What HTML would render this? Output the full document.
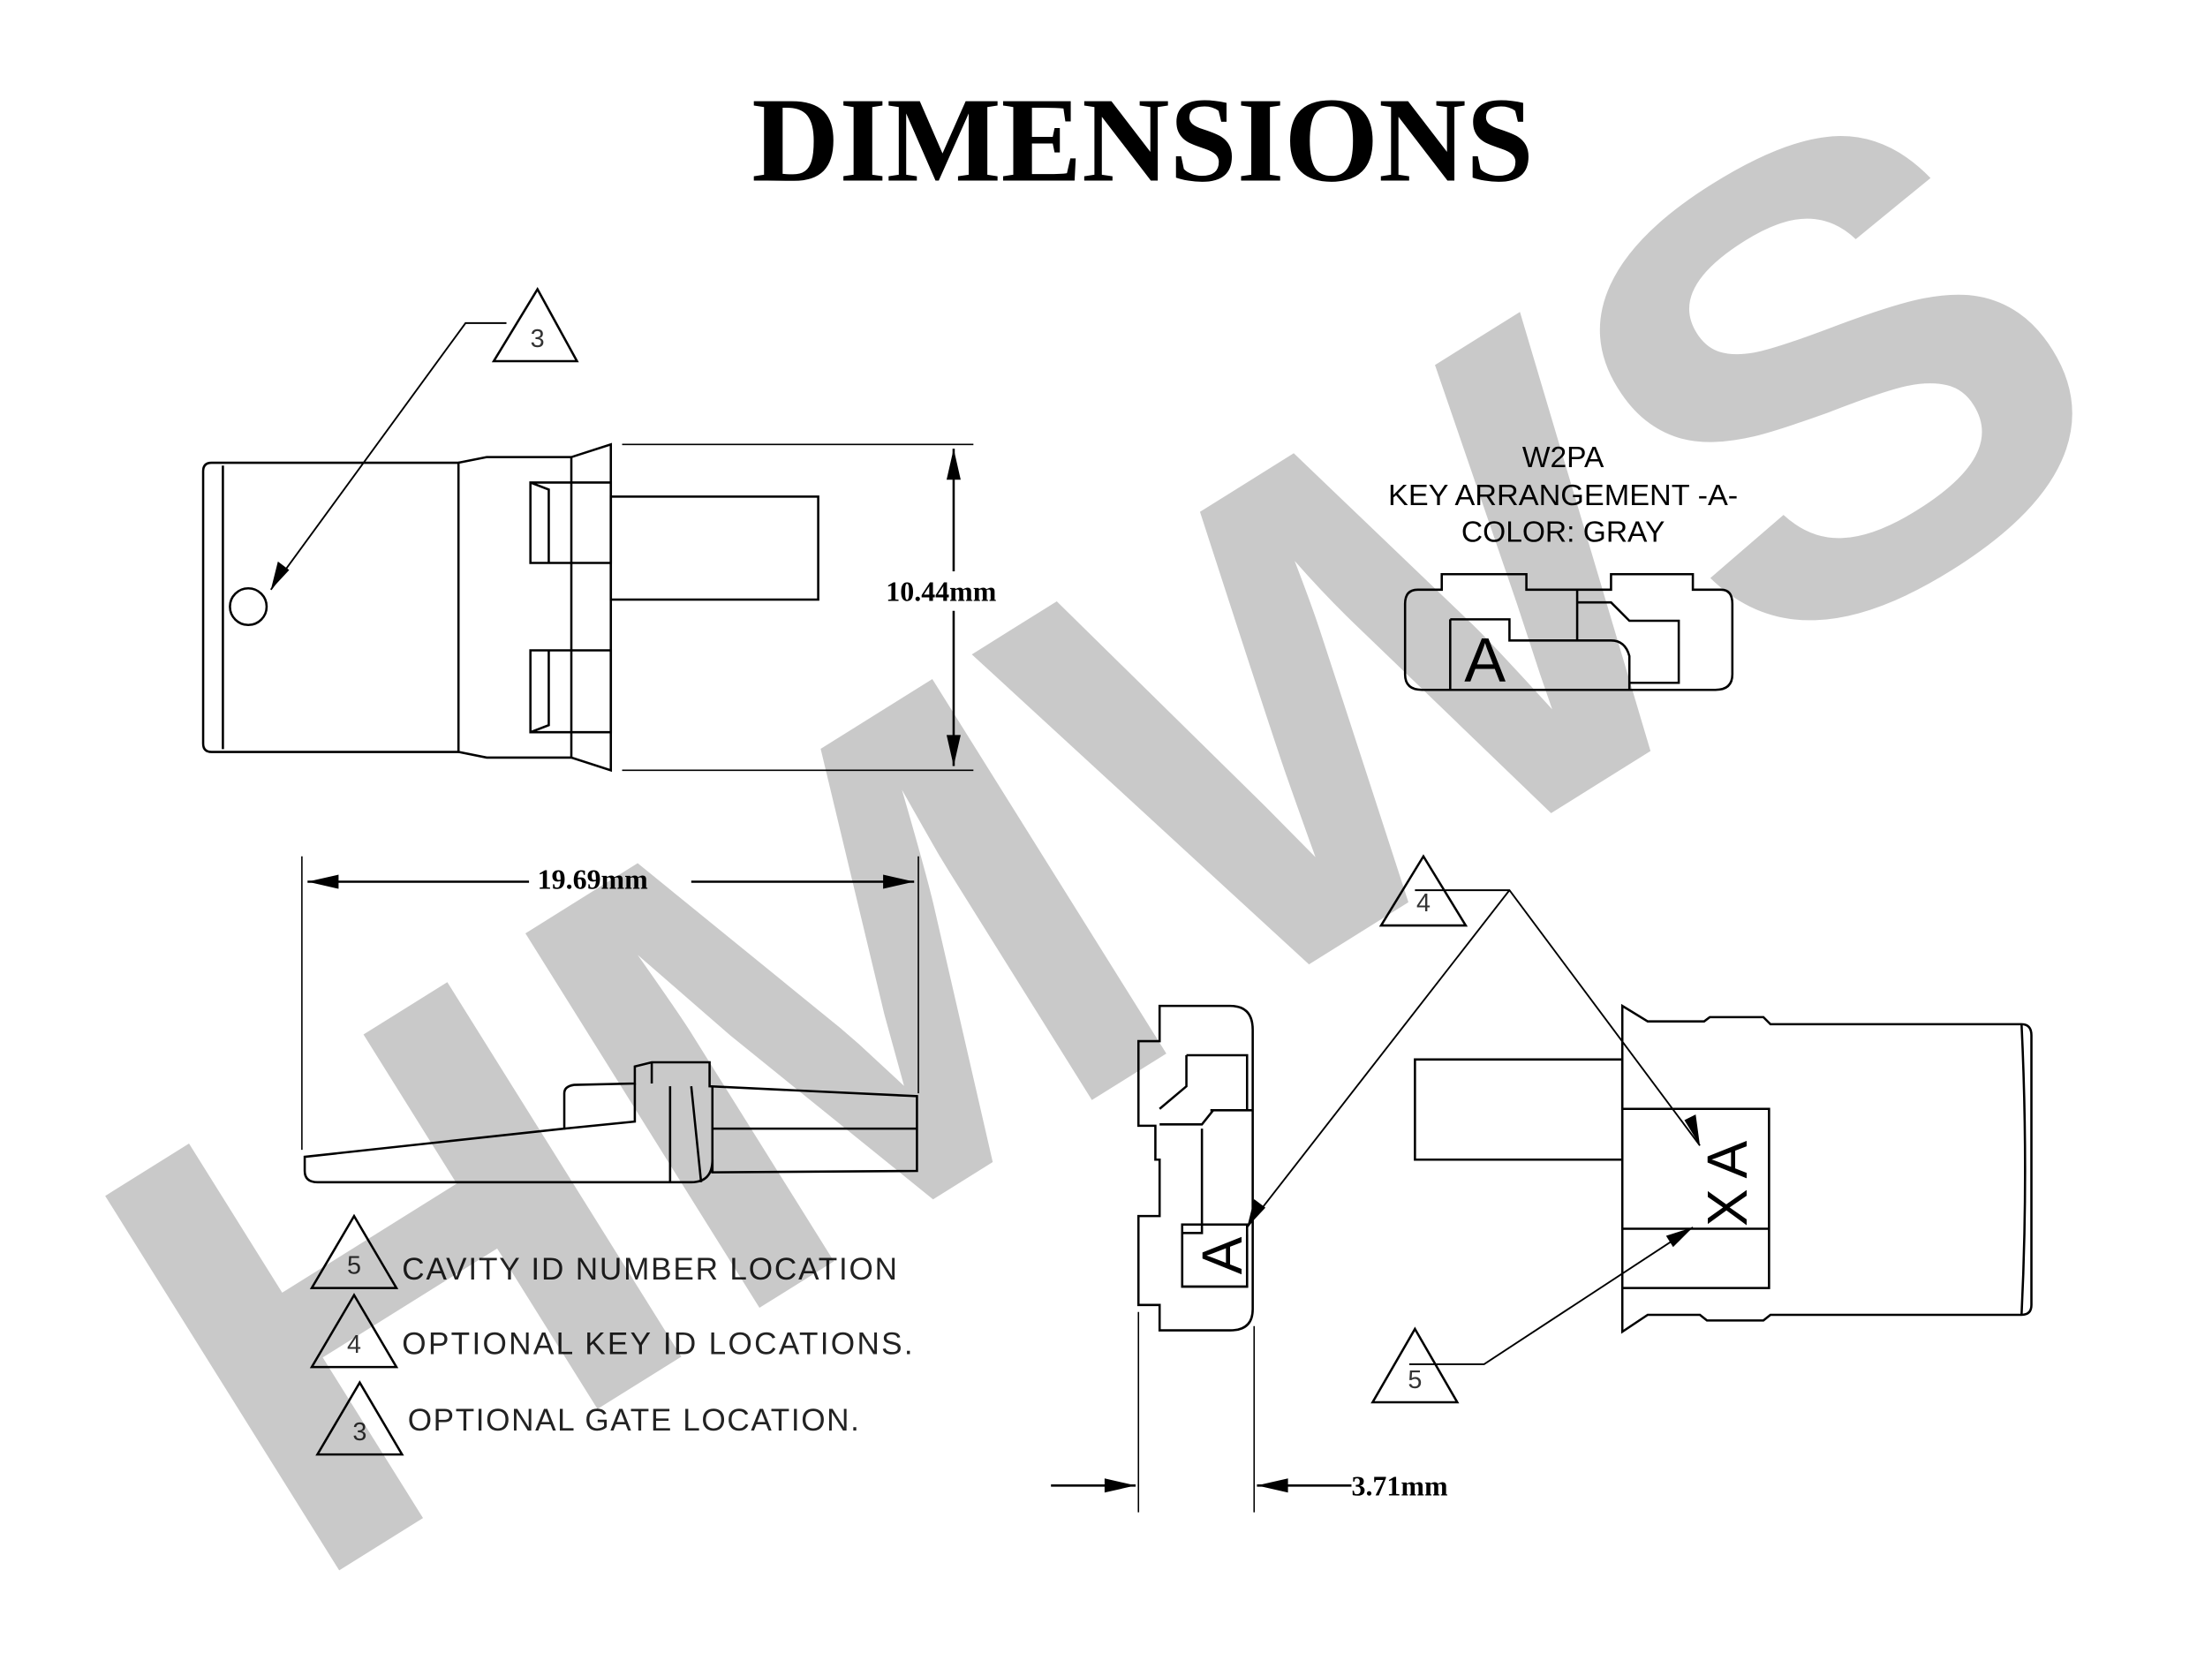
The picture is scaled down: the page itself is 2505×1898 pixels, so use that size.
<!DOCTYPE html>
<html><head><meta charset="utf-8"><style>
html,body{margin:0;padding:0;background:#fff;overflow:hidden;}
svg{display:block;}
</style></head><body>
<svg width="2505" height="1898" viewBox="0 0 1568 1188" xmlns="http://www.w3.org/2000/svg">
<rect width="1568" height="1188" fill="#fff"/>
<text x="810" y="128" text-anchor="middle" font-family="Liberation Serif, serif" font-weight="bold" font-size="86">DIMENSIONS</text>
<g fill="none" stroke="#000" stroke-width="1.6">
<path d="M150 328 H325 V533 H150 Q144 533 144 527 V334 Q144 328 150 328 Z"/>
<line x1="158" y1="330" x2="158" y2="531"/>
<path d="M325 328 L345 324 H405 L433 315 V546 L405 537 H345 L325 533"/>
<line x1="405" y1="324" x2="405" y2="537"/>
<path d="M376 342 H433 V399 H376 Z M376 342 L389 347 V399"/>
<path d="M376 461 H433 V519 H376 Z M389 461 V514 L376 519"/>
<rect x="433" y="352" width="147" height="73"/>
<circle cx="176" cy="430" r="13"/>
<line x1="441" y1="315" x2="690" y2="315" stroke-width="1"/>
<line x1="441" y1="546" x2="690" y2="546" stroke-width="1"/>
<line x1="676" y1="318" x2="676" y2="405"/>
<line x1="676" y1="433" x2="676" y2="543"/>
<polyline points="359,229 330,229 192,418" stroke-width="1.2"/>
<polygon points="381,205 409,256 350,256"/>
<path d="M1005 418 H1022 V407 H1082 V418 H1142 V407 H1200 V418 H1220 Q1228 418 1228 428 V478 Q1228 489 1216 489 H1008 Q996 489 996 478 V428 Q996 418 1005 418 Z"/>
<path d="M1028 439 H1070 V454 H1142 Q1152 454 1155 465 V489"/>
<path d="M1028 439 V489 M1118 418 V454 M1118 427 H1142 L1155 440 H1190 V484 H1155"/>
<path d="M216 820 L400 800 V775 Q400 770 407 769 L450 768 V756 L462 753 H503 V770 L650 777 V830 L505 831 V822 Q505 838 490 838 H225 Q216 838 216 830 Z"/>
<path d="M462 753 V768 M450 768 V795 L400 800 M475 770 V838 M490 770 L497 838 M505 770 V831 M505 800 H650"/>
<line x1="214" y1="607" x2="214" y2="815" stroke-width="1"/>
<line x1="651" y1="607" x2="651" y2="775" stroke-width="1"/>
<line x1="218" y1="625" x2="375" y2="625"/>
<line x1="490" y1="625" x2="648" y2="625"/>
<path d="M822 713 H872 Q888 713 888 730 V928 Q888 943 872 943 H822 V925 H807 V862 H822 V822 H819 V798 H807 V738 H822 Z"/>
<path d="M841 748 H884 V787 H860 L852 797 H822 M841 748 V770 L822 786 M858 787 H888 M852 800 V874 H838 V912 H884 V875"/>
<rect x="838" y="868" width="46" height="44"/>
<line x1="807" y1="930" x2="807" y2="1072" stroke-width="1"/>
<line x1="889" y1="940" x2="889" y2="1072" stroke-width="1"/>
<line x1="745" y1="1053" x2="805" y2="1053"/>
<line x1="891" y1="1053" x2="958" y2="1053"/>
<path d="M1150 713 L1168 724 H1208 L1212 721 H1250 L1255 726 H1433 Q1440 726 1440 734 V925 Q1440 932 1433 932 H1255 L1250 936 H1210 L1205 932 H1168 L1150 944 Z"/>
<path d="M1433 726 Q1438 830 1433 932"/>
<path d="M1003 751 H1150 V822 H1003 Z"/>
<path d="M1150 786 H1254 V913 H1150 M1150 871 H1254"/>
<polyline points="1003,631 1070,631 1205,812" stroke-width="1.2"/>
<line x1="1070" y1="631" x2="884" y2="870" stroke-width="1.2"/>
<polygon points="1009,607 1039,656 979,656"/>
<polyline points="999,967 1052,967 1200,870" stroke-width="1.2"/>
<polygon points="1003,942 1033,994 973,994"/>
<polygon points="251,862 281,913 221,913"/>
<polygon points="251,918 281,969 221,969"/>
<polygon points="255,980 285,1031 225,1031"/>
</g>
<g fill="#000">
<polygon points="676,318 671,340 681,340"/><polygon points="676,543 671,521 681,521"/>
<polygon points="218,625 240,620 240,630"/><polygon points="648,625 626,620 626,630"/>
<polygon points="805,1053 783,1048 783,1058"/><polygon points="891,1053 913,1048 913,1058"/>
<polygon points="192,418 197,398 205,404"/>
<polygon points="1205,812 1194,794 1202,790"/>
<polygon points="884,870 889,850 897,856"/>
<polygon points="1200,870 1186,884 1181,876"/>
</g>
<g font-family="Liberation Serif, serif" font-weight="bold" font-size="20">
<text x="628" y="426">10.44mm</text>
<text x="381" y="630">19.69mm</text>
<text x="958" y="1060">3.71mm</text>
</g>
<g font-family="Liberation Sans, sans-serif" font-size="21" text-anchor="middle">
<text x="1108" y="331">W2PA</text>
<text x="1108" y="358" textLength="248" lengthAdjust="spacingAndGlyphs">KEY  ARRANGEMENT  -A-</text>
<text x="1108" y="384">COLOR:  GRAY</text>
</g>
<g font-family="Liberation Sans, sans-serif" font-size="22" fill="#222">
<text x="285" y="907" textLength="351" lengthAdjust="spacing">CAVITY ID NUMBER LOCATION</text>
<text x="285" y="960" textLength="362" lengthAdjust="spacing">OPTIONAL KEY ID LOCATIONS.</text>
<text x="289" y="1014" textLength="320" lengthAdjust="spacing">OPTIONAL GATE LOCATION.</text>
</g>
<g font-family="Liberation Sans, sans-serif" font-size="18" fill="#333" text-anchor="middle">
<text x="381" y="246">3</text><text x="1009" y="646">4</text><text x="1003" y="984">5</text>
<text x="251" y="903">5</text><text x="251" y="959">4</text><text x="255" y="1021">3</text>
</g>
<text x="1038" y="483" font-family="Liberation Sans, sans-serif" font-size="44">A</text>
<text transform="translate(880,890) rotate(-90)" text-anchor="middle" font-family="Liberation Sans, sans-serif" font-size="40">A</text>
<text transform="translate(1238,822) rotate(-90)" text-anchor="middle" font-family="Liberation Sans, sans-serif" font-size="40">A</text>
<text transform="translate(1238,856) rotate(-90)" text-anchor="middle" font-family="Liberation Sans, sans-serif" font-size="40">X</text>
<text x="0" y="162" transform="translate(780,585) rotate(-32)" text-anchor="middle" font-family="Liberation Sans, sans-serif" font-weight="bold" font-size="455" fill="#000" fill-opacity="0.21" textLength="1540" lengthAdjust="spacingAndGlyphs">HMWS</text>
</svg>
</body></html>
